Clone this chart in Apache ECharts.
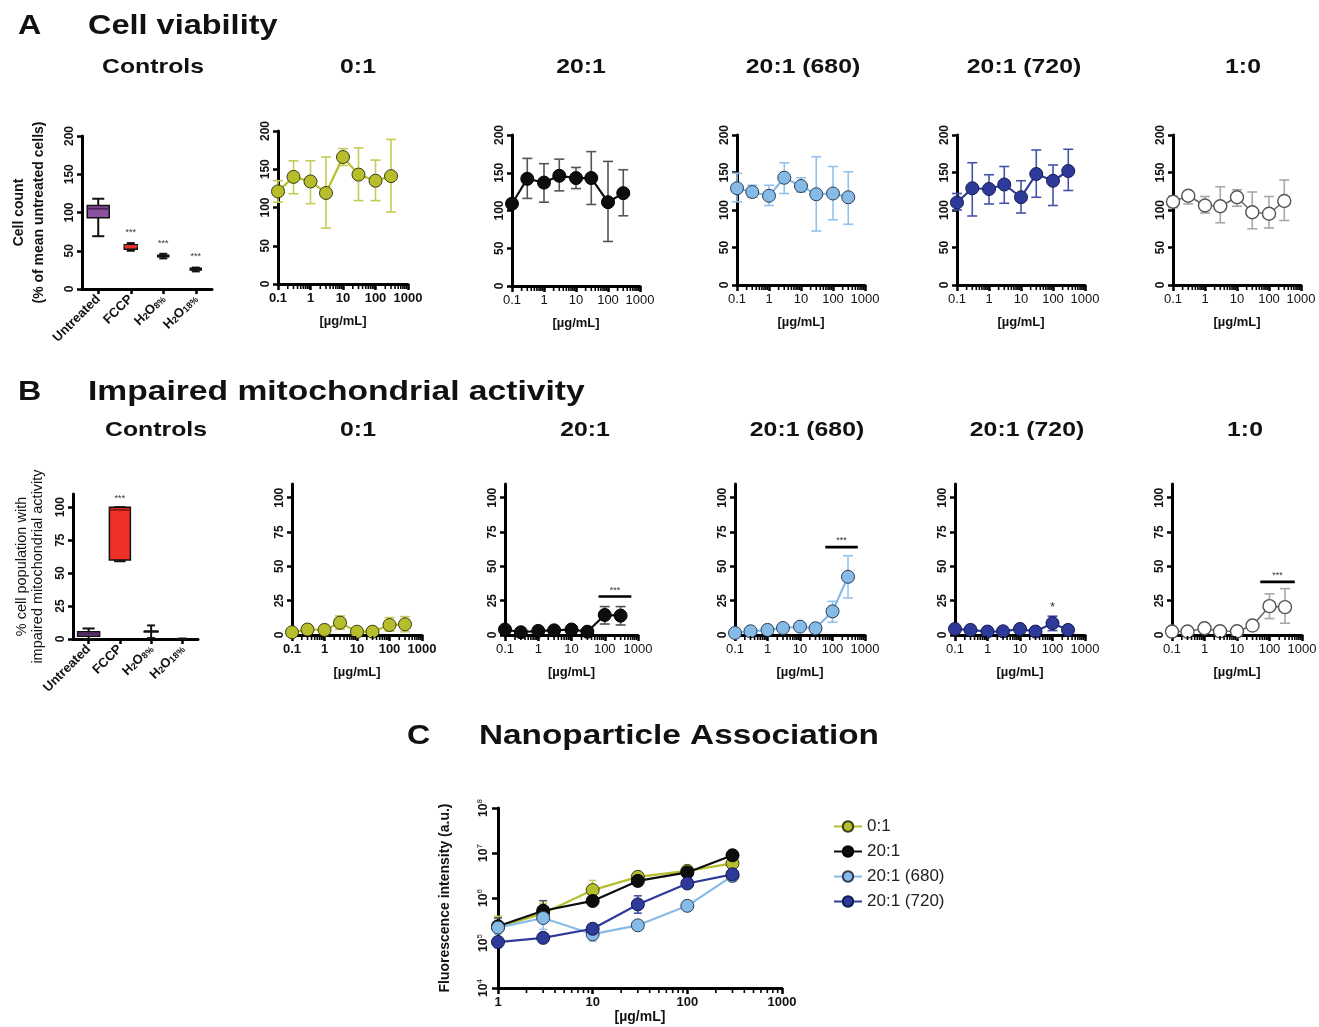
<!DOCTYPE html>
<html>
<head>
<meta charset="utf-8">
<title>Cell viability / mitochondrial activity / nanoparticle association</title>
<script src="https://cdn.jsdelivr.net/npm/echarts@6/dist/echarts.min.js"></script>
<style>
html, body { margin: 0; padding: 0; background: #fff; }
#chart { width: 1319px; height: 1027px; }
</style>
</head>
<body>
<div id="chart"></div>
<script>
var FONT = '"Liberation Sans", Arial, sans-serif';

// ---------- data ----------
var conc = [0.1, 0.3, 1, 3, 10, 30, 100, 300];
var ctrlNames = ['Untreated', 'FCCP', 'H2O8%', 'H2O18%'];

// A: cell viability, box = [min, q1, median, q3, max]
var ctrlViabBox = [[69, 93, 105, 109, 118], [50, 52, 56, 58, 60], [40, 42, 43, 44, 46], [23, 25, 26, 27, 28]];
var ctrlViabSig = [[1, 68], [2, 54], [3, 36]];

var viab01 = [121, 140, 134, 119, 166, 143, 135, 141];
var viab01Lo = [107, 118, 105, 73, 155, 109, 109, 94];
var viab01Hi = [135, 161, 161, 166, 177, 178, 162, 189];

var viab20 = [109, 142, 137, 146, 143, 143, 111, 123];
var viab20Lo = [105, 116, 111, 126, 129, 108, 59, 93];
var viab20Hi = [113, 169, 162, 168, 157, 178, 165, 154];

var viab680 = [129, 124, 119, 143, 132, 121, 122, 117];
var viab680Lo = [111, 117, 106, 122, 124, 72, 87, 81];
var viab680Hi = [149, 133, 133, 163, 143, 171, 158, 151];

var viab720 = [110, 129, 128, 134, 117, 148, 139, 152];
var viab720Lo = [100, 92, 108, 109, 96, 117, 106, 126];
var viab720Hi = [122, 163, 147, 158, 139, 180, 160, 181];

var viab10 = [111, 119, 106, 105, 117, 97, 95, 112];
var viab10Lo = [103, 108, 96, 83, 105, 75, 76, 86];
var viab10Hi = [118, 125, 118, 131, 127, 124, 118, 140];

// B: impaired mitochondrial activity
var ctrlImpBox = [[0, 2, 4, 5.5, 8], [59, 60, 98, 100, 100], [0.7, 5.8, 5.8, 5.8, 10.3], [0, 0, 0.1, 0.2, 0.3]];
var ctrlImpSig = [[1, 103]];

var imp01 = [2, 4, 3.7, 9, 2.4, 2.4, 7.3, 7.8];
var imp01Lo = [1, 3, 2.5, 4.1, 1.5, 1.5, 2.9, 2.4];
var imp01Hi = [3, 5, 5, 13.9, 3.3, 3.3, 12.7, 13.4];

var imp20 = [4, 2, 3, 3.4, 4, 2.4, 14.6, 14.1];
var imp20Lo = [3, 1.5, 2, 2.5, 3, 1.5, 8, 7.3];
var imp20Hi = [5, 2.5, 4, 4.3, 5, 3.3, 20.7, 20.7];
var imp20Sig = [65, 630, 28];

var imp680 = [1.5, 2.7, 3.7, 5.1, 6.1, 4.9, 17.2, 42.4];
var imp680Lo = [1, 2, 3, 4.3, 5.2, 4, 9.3, 27];
var imp680Hi = [2, 3.4, 4.4, 5.9, 7, 5.8, 24.5, 57.8];
var imp680Sig = [60, 600, 64];

var imp720 = [4.4, 3.7, 2.5, 2.7, 4.4, 2.5, 8.6, 3.7];
var imp720Lo = [3.7, 3, 2, 2, 3.7, 2, 3.2, 3];
var imp720Hi = [5, 4.4, 3, 3.4, 5, 3, 13.7, 4.4];
var imp720Sig = [100, 100, 15];

var imp10 = [2.5, 2.5, 4.9, 2.7, 2.7, 6.9, 21, 20.3];
var imp10Lo = [2, 2, 4, 2, 2, 6, 12, 8.6];
var imp10Hi = [3, 3, 5.8, 3.4, 3.4, 7.8, 30, 33.8];
var imp10Sig = [52, 600, 38.7];

// C: nanoparticle association
var concC = [1, 3, 10, 30, 100, 300];
var fl01 = [2.3e5, 4.5e5, 1.5e6, 2.95e6, 4.0e6, 5.9e6];
var fl01Lo = [1.8e5, 3.6e5, 1.0e6, 2.6e6, 3.6e6, 5.2e6];
var fl01Hi = [3.9e5, 7.5e5, 2.45e6, 3.3e6, 4.4e6, 6.5e6];

var fl20 = [2.35e5, 5.2e5, 8.6e5, 2.4e6, 3.7e6, 8.9e6];
var fl20Lo = [1.9e5, 4.0e5, 7.0e5, 2.2e6, 3.4e6, 8.3e6];
var fl20Hi = [3.6e5, 8.7e5, 1.0e6, 2.7e6, 4.0e6, 9.5e6];

var fl680 = [2.2e5, 3.6e5, 1.57e5, 2.47e5, 6.7e5, 3.1e6];
var fl680Lo = [1.6e5, 2.0e5, 1.1e5, 2.2e5, 6.0e5, 2.4e6];
var fl680Hi = [2.6e5, 4.2e5, 2.0e5, 2.8e5, 7.4e5, 3.6e6];

var fl720 = [1.05e5, 1.3e5, 2.07e5, 7.2e5, 2.1e6, 3.36e6];
var fl720Lo = [0.8e5, 1.2e5, 1.9e5, 4.6e5, 1.9e6, 3.1e6];
var fl720Hi = [1.2e5, 1.45e5, 2.3e5, 1.12e6, 2.3e6, 3.6e6];

// ---------- styles ----------
var stYel = { fill: '#b7be2c', border: '#3c3d12', line: '#b7be2c', err: '#c6cb58' };
var stBlk = { fill: '#0d0d0d', border: '#000', line: '#0d0d0d', err: '#555' };
var stLbl = { fill: '#86bbe8', border: '#2c3e55', line: '#86bbe8', err: '#92c2ec' };
var stDbl = { fill: '#2e3a9a', border: '#141a50', line: '#2e3a9a', err: '#4753aa' };
var stOpen = { fill: '#fff', border: '#555', line: '#6a6a6a', err: '#a8a8a8' };

var grids = [
    { left: 82, top: 136, width: 130, height: 153 },   // A controls
    { left: 278, top: 131, width: 130, height: 153 },  // A 0:1
    { left: 512, top: 135, width: 128, height: 151 },  // A 20:1
    { left: 737, top: 135, width: 128, height: 150 },  // A 20:1 (680)
    { left: 957, top: 135, width: 128, height: 150 },  // A 20:1 (720)
    { left: 1173, top: 135, width: 128, height: 150 }, // A 1:0
    { left: 73, top: 494, width: 125, height: 145 },   // B controls
    { left: 292, top: 484, width: 130, height: 151 },  // B 0:1
    { left: 505, top: 484, width: 133, height: 151 },  // B 20:1
    { left: 735, top: 484, width: 130, height: 151 },  // B 20:1 (680)
    { left: 955, top: 484, width: 130, height: 151 },  // B 20:1 (720)
    { left: 1172, top: 484, width: 130, height: 151 }, // B 1:0
    { left: 498, top: 808, width: 284, height: 180 }   // C
];

function line(x1, y1, x2, y2, color, w) {
    return { type: 'line', shape: { x1: x1, y1: y1, x2: x2, y2: y2 }, style: { stroke: color || '#111', lineWidth: w || 1.5 } };
}

function yLin(gi, max, ticks, opts) {
    opts = opts || {};
    return {
        type: 'value', gridIndex: gi, min: 0, max: max,
        axisLine: { show: true, lineStyle: { color: '#000', width: 3 } },
        axisTick: { show: true, length: 5, customValues: ticks, lineStyle: { color: '#000', width: 2.5 } },
        axisLabel: { rotate: 90, customValues: ticks, fontSize: 12, fontWeight: 'bold', color: '#111', margin: 6, fontFamily: FONT },
        splitLine: { show: false },
        name: opts.name || '', nameLocation: 'middle', nameGap: opts.nameGap || 30, nameRotate: 90,
        nameTextStyle: opts.nameStyle || {}
    };
}

function xLog(gi, min, max, bold, nameGap) {
    return {
        type: 'log', logBase: 10, gridIndex: gi, min: min, max: max,
        axisLine: { show: true, lineStyle: { color: '#000', width: 3 } },
        axisTick: { show: true, length: 6, lineStyle: { color: '#000', width: 2.5 } },
        axisLabel: {
            fontSize: 13, fontWeight: bold ? 'bold' : 'normal', color: '#111', margin: 8, fontFamily: FONT,
            formatter: function (v) { return v < 1 ? '0.1' : String(Math.round(v)); }
        },
        splitLine: { show: false },
        name: '[\u00b5g/mL]', nameLocation: 'middle', nameGap: nameGap,
        nameTextStyle: { fontSize: 13, fontWeight: 'bold', color: '#111', fontFamily: FONT }
    };
}

function xCat(gi, fontSize) {
    return {
        type: 'category', gridIndex: gi, data: ctrlNames, boundaryGap: true,
        axisLine: { show: true, lineStyle: { color: '#000', width: 3 } },
        axisTick: { show: true, alignWithLabel: true, length: 5, lineStyle: { color: '#000', width: 2.5 } },
        axisLabel: {
            rotate: 45, interval: 0, fontSize: fontSize, fontWeight: 'bold', color: '#111', margin: 8, fontFamily: FONT,
            formatter: function (v) { return v.replace(/^H2O(\d+%)$/, 'H{s|2}O{s|$1}'); },
            rich: { s: { fontSize: fontSize - 4, fontWeight: 'bold', color: '#111', verticalAlign: 'bottom', padding: [4, 0, 0, 0] } }
        },
        splitLine: { show: false }
    };
}

function errSeries(gi, xs, lo, hi, color, cap) {
    return {
        type: 'custom', xAxisIndex: gi, yAxisIndex: gi, z: 1, silent: true,
        data: xs.map(function (x, i) { return [x, lo[i], hi[i]]; }),
        encode: { x: 0, y: [1, 2] },
        renderItem: function (params, api) {
            var a = api.coord([api.value(0), api.value(1)]);
            var b = api.coord([api.value(0), api.value(2)]);
            return { type: 'group', children: [
                line(a[0], a[1], b[0], b[1], color, 1.6),
                line(a[0] - cap / 2, a[1], a[0] + cap / 2, a[1], color, 1.6),
                line(b[0] - cap / 2, b[1], b[0] + cap / 2, b[1], color, 1.6)
            ] };
        }
    };
}

function lineSeries(gi, name, xs, ys, st, size) {
    return {
        type: 'line', name: name, xAxisIndex: gi, yAxisIndex: gi, z: 3,
        data: xs.map(function (x, i) { return [x, ys[i]]; }),
        symbol: 'circle', symbolSize: size, showAllSymbol: true,
        itemStyle: { color: st.fill, borderColor: st.border, borderWidth: st.fill === '#fff' ? 1.4 : 1 },
        lineStyle: { color: st.line, width: st.fill === '#fff' ? 1.6 : 2.2 },
        emphasis: { disabled: true }, silent: true
    };
}

// minor ticks of a log x axis (2..9 within each decade)
function minorTicks(gi, fromExp, toExp, yBase) {
    var vals = [];
    for (var k = fromExp; k < toExp; k++) {
        for (var m = 2; m <= 9; m++) vals.push(m * Math.pow(10, k));
    }
    return {
        type: 'custom', xAxisIndex: gi, yAxisIndex: gi, silent: true, z: 5,
        data: vals.map(function (v) { return [v, yBase]; }),
        encode: { x: 0, y: 1 },
        renderItem: function (params, api) {
            var p = api.coord([api.value(0), api.value(1)]);
            return line(p[0], p[1] + 1, p[0], p[1] + 5, '#000', 1.6);
        }
    };
}

function boxSeries(gi, boxes, fills, meds, widths) {
    return {
        type: 'custom', xAxisIndex: gi, yAxisIndex: gi, silent: true, z: 2,
        data: boxes.map(function (b, i) { return [i].concat(b); }),
        encode: { x: 0, y: [1, 2, 3, 4, 5] },
        renderItem: function (params, api) {
            var i = params.dataIndex, w = widths[i], cw = Math.max(8, w * 0.55);
            var pMin = api.coord([i, api.value(1)]), pQ1 = api.coord([i, api.value(2)]);
            var pMed = api.coord([i, api.value(3)]), pQ3 = api.coord([i, api.value(4)]);
            var pMax = api.coord([i, api.value(5)]);
            var x = pMin[0];
            return { type: 'group', children: [
                line(x, pMax[1], x, pQ3[1], '#111', 2),
                line(x, pQ1[1], x, pMin[1], '#111', 2),
                line(x - cw / 2, pMax[1], x + cw / 2, pMax[1], '#111', 2),
                line(x - cw / 2, pMin[1], x + cw / 2, pMin[1], '#111', 2),
                { type: 'rect', shape: { x: x - w / 2, y: pQ3[1], width: w, height: Math.max(0.5, pQ1[1] - pQ3[1]) },
                  style: { fill: fills[i], stroke: '#111', lineWidth: 1.5 } },
                line(x - w / 2, pMed[1], x + w / 2, pMed[1], meds[i], 2)
            ] };
        }
    };
}

// significance marks: [x1, x2, y] with optional bar
function sigSeries(gi, items, text, withBar, fontSize) {
    return {
        type: 'custom', xAxisIndex: gi, yAxisIndex: gi, silent: true, z: 6,
        data: items,
        encode: { x: [0, 1], y: 2 },
        renderItem: function (params, api) {
            var a = api.coord([api.value(0), api.value(2)]);
            var b = api.coord([api.value(1), api.value(2)]);
            var kids = [];
            if (withBar) kids.push(line(a[0], a[1], b[0], b[1], '#000', 2.6));
            kids.push({ type: 'text', x: (a[0] + b[0]) / 2, y: a[1] - (withBar ? 2 : 0),
                style: { text: text, textAlign: 'center', textVerticalAlign: 'bottom', font: fontSize + 'px ' + FONT, fill: '#333' } });
            return { type: 'group', children: kids };
        }
    };
}

// ---------- axes ----------
var ticksA = [0, 50, 100, 150, 200];
var ticksB = [0, 25, 50, 75, 100];
var xAxes = [], yAxes = [];

xAxes.push(xCat(0, 13));
yAxes.push(yLin(0, 200, ticksA, {
    name: 'Cell count\n(% of mean untreated cells)', nameGap: 33,
    nameStyle: { fontSize: 14, fontWeight: 'bold', color: '#111', lineHeight: 20, fontFamily: FONT }
}));
for (var g = 1; g <= 5; g++) {
    xAxes.push(xLog(g, 0.1, 1000, g === 1, 31));
    yAxes.push(yLin(g, 200, ticksA));
}
xAxes.push(xCat(6, 13));
yAxes.push(yLin(6, 110, ticksB, {
    name: '% cell population with\nimpaired mitochondrial activity', nameGap: 27,
    nameStyle: { fontSize: 14.5, color: '#111', lineHeight: 16, fontFamily: FONT }
}));
for (g = 7; g <= 11; g++) {
    xAxes.push(xLog(g, 0.1, 1000, g === 7, 31));
    yAxes.push(yLin(g, 110, ticksB));
}
xAxes.push(xLog(12, 1, 1000, true, 22));
xAxes[12].nameTextStyle.fontSize = 14;
yAxes.push({
    type: 'log', logBase: 10, gridIndex: 12, min: 1e4, max: 1e8,
    axisLine: { show: true, lineStyle: { color: '#000', width: 3 } },
    axisTick: { show: true, length: 6, lineStyle: { color: '#000', width: 2.5 } },
    axisLabel: {
        rotate: 90, margin: 6, color: '#111', fontFamily: FONT,
        formatter: function (v) { return '{b|10}{s|' + Math.round(Math.log(v) / Math.LN10) + '}'; },
        rich: {
            b: { fontSize: 12, fontWeight: 'bold', color: '#111', lineHeight: 16, fontFamily: FONT },
            s: { fontSize: 8, color: '#111', verticalAlign: 'top', lineHeight: 16, fontFamily: FONT }
        }
    },
    splitLine: { show: false },
    name: 'Fluorescence intensity (a.u.)', nameLocation: 'middle', nameGap: 46, nameRotate: 90,
    nameTextStyle: { fontSize: 14, fontWeight: 'bold', color: '#111', fontFamily: FONT }
});

// ---------- series ----------
var series = [];
var panelsA = [
    [1, 'A 0:1', viab01, viab01Lo, viab01Hi, stYel],
    [2, 'A 20:1', viab20, viab20Lo, viab20Hi, stBlk],
    [3, 'A 20:1 (680)', viab680, viab680Lo, viab680Hi, stLbl],
    [4, 'A 20:1 (720)', viab720, viab720Lo, viab720Hi, stDbl],
    [5, 'A 1:0', viab10, viab10Lo, viab10Hi, stOpen]
];
var panelsB = [
    [7, 'B 0:1', imp01, imp01Lo, imp01Hi, stYel],
    [8, 'B 20:1', imp20, imp20Lo, imp20Hi, stBlk],
    [9, 'B 20:1 (680)', imp680, imp680Lo, imp680Hi, stLbl],
    [10, 'B 20:1 (720)', imp720, imp720Lo, imp720Hi, stDbl],
    [11, 'B 1:0', imp10, imp10Lo, imp10Hi, stOpen]
];
panelsA.concat(panelsB).forEach(function (p) {
    series.push(minorTicks(p[0], -1, 3, 0));
    series.push(errSeries(p[0], conc, p[3], p[4], p[5].err, 10));
    series.push(lineSeries(p[0], p[1], conc, p[2], p[5], 13));
});

series.push(boxSeries(0, ctrlViabBox, ['#8d4f9f', '#e8312a', '#222', '#222'], ['#4a2458', '#e8312a', '#111', '#111'], [22, 13, 11, 11]));
series.push(sigSeries(0, ctrlViabSig.map(function (s) { return [s[0], s[0], s[1]]; }), '***', false, 9));
series.push(boxSeries(6, ctrlImpBox, ['#8d4f9f', '#ee3127', '#111', '#111'], ['#4a2458', '#8a1a14', '#111', '#111'], [22, 21, 14, 10]));
series.push(sigSeries(6, ctrlImpSig.map(function (s) { return [s[0], s[0], s[1]]; }), '***', false, 9));

series.push(sigSeries(8, [imp20Sig], '***', true, 9));
series.push(sigSeries(9, [imp680Sig], '***', true, 9));
series.push(sigSeries(10, [imp720Sig], '*', false, 13));
series.push(sigSeries(11, [imp10Sig], '***', true, 9));

var panelsC = [
    ['0:1', fl01, fl01Lo, fl01Hi, stYel],
    ['20:1', fl20, fl20Lo, fl20Hi, stBlk],
    ['20:1 (680)', fl680, fl680Lo, fl680Hi, stLbl],
    ['20:1 (720)', fl720, fl720Lo, fl720Hi, stDbl]
];
series.push(minorTicks(12, 0, 3, 1e4));
panelsC.forEach(function (p) {
    series.push(errSeries(12, concC, p[2], p[3], p[4].err, 8));
    series.push(lineSeries(12, p[0], concC, p[1], p[4], 13));
});

// ---------- titles ----------
var graphics = [];
function txt(x, y, s, size, align, sx) {
    graphics.push({ type: 'text', x: x, y: y, scaleX: sx || 1, silent: true,
        style: { text: s, font: 'bold ' + size + 'px ' + FONT, fill: '#111', textAlign: align || 'left', textVerticalAlign: 'middle' } });
}
txt(18, 26, 'A', 28, 'left', 1.15); txt(88, 26, 'Cell viability', 28, 'left', 1.16);
txt(18, 392, 'B', 28, 'left', 1.15); txt(88, 392, 'Impaired mitochondrial activity', 28, 'left', 1.2);
txt(407, 736, 'C', 28, 'left', 1.15); txt(479, 736, 'Nanoparticle Association', 28, 'left', 1.19);
var subTitles = ['Controls', '0:1', '20:1', '20:1 (680)', '20:1 (720)', '1:0'];
var subXA = [153, 358, 581, 803, 1024, 1243];
var subXB = [156, 358, 585, 807, 1027, 1245];
subTitles.forEach(function (s, i) {
    txt(subXA[i], 67, s, 21, 'center', 1.18);
    txt(subXB[i], 430, s, 21, 'center', 1.18);
});

var chart = echarts.init(document.getElementById('chart'), null, { renderer: 'canvas' });
chart.setOption({
    animation: false,
    backgroundColor: '#fff',
    textStyle: { fontFamily: FONT },
    grid: grids.map(function (r) {
        return { left: r.left, top: r.top, width: r.width, height: r.height, containLabel: false, outerBoundsMode: 'none' };
    }),
    xAxis: xAxes,
    yAxis: yAxes,
    legend: {
        data: ['0:1', '20:1', '20:1 (680)', '20:1 (720)'],
        orient: 'vertical', left: 828, top: 813,
        itemWidth: 28, itemHeight: 13, itemGap: 8,
        textStyle: { fontSize: 17, color: '#222', fontFamily: FONT },
        selectedMode: false
    },
    series: series,
    graphic: graphics
});
</script>
</body>
</html>
